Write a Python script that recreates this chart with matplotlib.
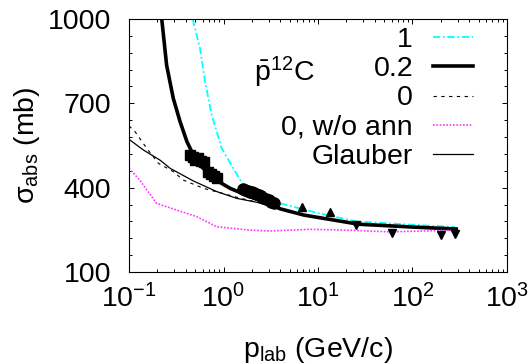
import numpy as np
import matplotlib
matplotlib.use("Agg")
import matplotlib.pyplot as plt
from matplotlib.ticker import FixedLocator, LogLocator, NullFormatter

plt.rcParams['font.family'] = ['Liberation Sans', 'DejaVu Sans']
plt.rcParams['mathtext.fontset'] = 'custom'
plt.rcParams['mathtext.rm'] = 'Liberation Sans'
plt.rcParams['mathtext.it'] = 'Liberation Sans:italic'
plt.rcParams['mathtext.bf'] = 'Liberation Sans:bold'
plt.rcParams['font.size'] = 20.5

# theory curves: p_lab (GeV/c) and sigma_abs (mb)
p_one = [0.472, 0.564, 0.637, 0.75, 0.957, 1.27, 1.62, 2.4, 3.7, 8.9, 13.4, 25.7, 100, 280]
s_one = [1000, 896, 778, 659, 540, 469, 409, 382, 347, 314, 300, 280, 268, 260]

p_02 = [0.222, 0.25, 0.294, 0.347, 0.41, 0.52, 0.78, 1.17, 1.9, 2.63, 3.96, 7.0, 8.9, 27, 100, 290]
s_02 = [1000, 836, 718, 635, 564, 492, 433, 398, 368, 352, 325, 303, 297, 270, 260, 253]

p_zero = [0.1, 0.116, 0.154, 0.204, 0.294, 0.376, 0.61, 1.5, 3.0, 7.0, 30, 290]
s_zero = [620, 599, 540, 487, 457, 427, 398, 363, 338, 303, 268, 253]

p_noann = [0.1, 0.13, 0.196, 0.52, 0.85, 1.9, 3.1, 8.2, 20, 57, 290]
s_noann = [469, 427, 344, 297, 261, 249, 246, 252, 249, 243, 249]

p_glau = [0.1, 0.142, 0.213, 0.272, 0.479, 0.85, 1.38, 2.5, 7.0, 30, 290]
s_glau = [572, 534, 498, 469, 424, 386, 362, 345, 303, 268, 253]

# data
p_sq = [0.44, 0.47, 0.50, 0.54, 0.58, 0.62, 0.69, 0.74, 0.79, 0.85]
s_sq = [515, 510, 500, 505, 495, 490, 455, 450, 440, 435]
e_sq = [10, 10, 10, 10, 10, 10, 10, 10, 10, 10]

p_circ = [1.6, 1.7, 1.8, 1.9, 2.0, 2.1, 2.2, 2.35, 2.5, 2.65, 2.8, 3.0, 3.2, 3.4]
s_circ = [395, 392, 389, 386, 383, 380, 377, 373, 369, 365, 360, 355, 350, 346]

p_up = [6.7, 13.4]
s_up = [332, 314]

p_down = [25, 60, 200, 280]
s_down = [267, 238, 232, 235]

fig = plt.figure(figsize=(5.30, 3.64), dpi=100)
ax = fig.add_axes([0.2434, 0.2527, 0.9566 - 0.2434, 0.9478 - 0.2527])

ax.plot(p_one, s_one, color='#00ffff', lw=1.3, ls=(0, (4, 1.5, 1, 1.5)), label='1')
ax.plot(p_02, s_02, color='black', lw=2.6, label='0.2')
ax.plot(p_zero, s_zero, color='black', lw=0.8, ls=(0, (3, 4)), label='0')
ax.plot(p_noann, s_noann, color='#ff33ff', lw=1.2, ls=(0, (1, 1)), label='0, w/o ann')
ax.plot(p_glau, s_glau, color='black', lw=0.9, label='Glauber')

ax.errorbar(p_sq, s_sq, yerr=e_sq, fmt='s', color='black', ms=6.5, capsize=2, lw=0.8)
ax.plot(p_circ, s_circ, 'o', color='black', ms=8)
ax.plot(p_up, s_up, '^', color='black', ms=6)
ax.plot(p_down, s_down, 'v', color='black', ms=6)

ax.set_xscale('log')
ax.set_xlim(0.1, 1000)
ax.set_ylim(100, 1000)
ax.yaxis.set_major_locator(FixedLocator([100, 400, 700, 1000]))
ax.yaxis.set_minor_locator(FixedLocator(np.arange(100, 1001, 60)))
ax.xaxis.set_major_locator(LogLocator(base=10, numticks=10))
ax.xaxis.set_minor_locator(LogLocator(base=10, subs=np.arange(2, 10), numticks=10))
ax.xaxis.set_minor_formatter(NullFormatter())

ax.tick_params(which='both', direction='in', top=True, right=True, width=0.7)
ax.tick_params(which='major', length=3.6)
ax.tick_params(which='minor', length=2)
ax.tick_params(axis='y', pad=13)
ax.tick_params(axis='x', pad=9)
for sp in ax.spines.values():
    sp.set_linewidth(0.8)

ax.set_xlabel(r'p$_{\mathrm{lab}}$ (GeV/c)', labelpad=15)
ax.set_ylabel(r'σ$_{\mathrm{abs}}$ (mb)', labelpad=4)

ax.text(0.33, 0.755, r'$\bar{\mathrm{p}}^{12}\mathrm{C}$', transform=ax.transAxes)

ax.legend(loc='upper right', bbox_to_anchor=(0.955, 1.035), frameon=False,
          markerfirst=False, handlelength=1.4, handletextpad=0.7,
          labelspacing=0.11, borderaxespad=0.2)

fig.savefig('out.png', dpi=100)
